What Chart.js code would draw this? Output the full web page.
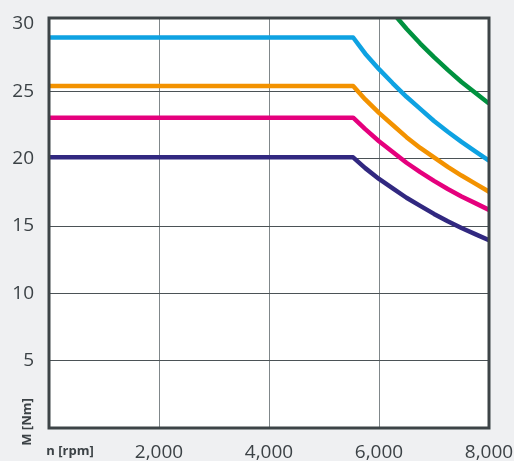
<!DOCTYPE html>
<html>
<head>
<meta charset="utf-8">
<script src="https://cdn.jsdelivr.net/npm/chart.js@4.4.1/dist/chart.umd.min.js"></script>
<style>
  html, body { margin: 0; padding: 0; background: #eff0f2; }
  #torqueChart { display: block; }
</style>
</head>
<body>
<canvas id="torqueChart" width="514" height="461"></canvas>
<script>
// speed points (rpm) and torque (Nm) for each motor curve
const rpm = [0, 5530, 5750, 6000, 6250, 6500, 6750, 7000, 7250, 7500, 7750, 8000];
const torqueBlue   = [29.0, 29.0, 27.8, 26.65, 25.6, 24.6, 23.7, 22.8, 22.0, 21.25, 20.55, 19.85];
const torqueOrange = [25.4, 25.4, 24.4, 23.4, 22.5, 21.6, 20.8, 20.1, 19.4, 18.75, 18.15, 17.55];
const torquePink   = [23.05, 23.05, 22.2, 21.3, 20.5, 19.7, 19.0, 18.35, 17.75, 17.2, 16.7, 16.2];
const torquePurple = [20.1, 20.1, 19.3, 18.5, 17.8, 17.1, 16.5, 15.9, 15.35, 14.85, 14.4, 13.95];
const torqueGreen  = [null, null, 33.5, 32.1, 30.85, 29.65, 28.55, 27.55, 26.6, 25.7, 24.9, 24.1];

const xTicks = [0, 2000, 4000, 6000, 8000];
const yTicks = [0, 5, 10, 15, 20, 25, 30];

const textColor = "#3c4246";

function series(values, color) {
    return {
        data: rpm.map((n, i) => ({ x: n, y: values[i] })),
        borderColor: color,
        borderWidth: 4.5,
        borderJoinStyle: "round",
        pointRadius: 0,
        tension: 0,
        fill: false
    };
}

// white plot area, frame and axis captions
const plotFrame = {
    id: "plotFrame",
    beforeDraw(chart) {
        const a = chart.chartArea;
        const ctx = chart.ctx;
        ctx.save();
        ctx.fillStyle = "#ffffff";
        ctx.fillRect(a.left, a.top, a.right - a.left, a.bottom - a.top);
        ctx.restore();
    },
    afterDraw(chart) {
        const a = chart.chartArea;
        const ctx = chart.ctx;
        ctx.save();
        ctx.strokeStyle = "#3d4447";
        ctx.lineWidth = 3;
        ctx.strokeRect(a.left, a.top, a.right - a.left, a.bottom - a.top);

        ctx.fillStyle = textColor;
        ctx.font = "bold 13px 'Open Sans'";
        ctx.textAlign = "center";
        ctx.textBaseline = "middle";
        ctx.fillText("n [rpm]", a.left + 21, a.bottom + 23);

        ctx.translate(a.left - 22, a.bottom - 6);
        ctx.rotate(-Math.PI / 2);
        ctx.fillText("M [Nm]", 0, 0);
        ctx.restore();
    }
};

new Chart(document.getElementById("torqueChart"), {
    type: "line",
    data: {
        datasets: [
            series(torqueGreen, "#00923f"),
            series(torqueBlue, "#0ea2e2"),
            series(torqueOrange, "#f39200"),
            series(torquePink, "#e5007d"),
            series(torquePurple, "#312880")
        ]
    },
    options: {
        responsive: false,
        animation: false,
        layout: { padding: { left: 0, right: 25, top: 18, bottom: 0 } },
        plugins: {
            legend: { display: false },
            tooltip: { enabled: false }
        },
        scales: {
            x: {
                type: "linear",
                min: 0,
                max: 8000,
                afterBuildTicks: scale => { scale.ticks = xTicks.map(v => ({ value: v })); },
                afterFit: scale => {
                    scale.height = 33;
                    scale.paddingLeft = 0;
                    scale.paddingRight = 0;
                },
                border: { display: false },
                grid: {
                    drawTicks: false,
                    color: c => (c.tick.value === 0 || c.tick.value === 8000) ? "transparent" : "#80878a",
                    lineWidth: 1
                },
                ticks: {
                    padding: 13,
                    maxRotation: 0,
                    color: textColor,
                    font: { family: "'Open Sans'", size: 19 },
                    callback: v => v === 0 ? "" : v.toLocaleString("en-US")
                }
            },
            y: {
                min: 0,
                max: 30.45,
                afterBuildTicks: scale => { scale.ticks = yTicks.map(v => ({ value: v })); },
                afterFit: scale => {
                    scale.width = 49;
                    scale.paddingTop = 0;
                    scale.paddingBottom = 0;
                },
                border: { display: false },
                grid: {
                    drawTicks: false,
                    color: c => (c.tick.value === 0 || c.tick.value === 30) ? "transparent" : "#4b5256",
                    lineWidth: 1
                },
                ticks: {
                    padding: 15,
                    color: textColor,
                    font: { family: "'Open Sans'", size: 19 },
                    callback: v => v === 0 ? "" : String(v)
                }
            }
        }
    },
    plugins: [plotFrame]
});
</script>
</body>
</html>
